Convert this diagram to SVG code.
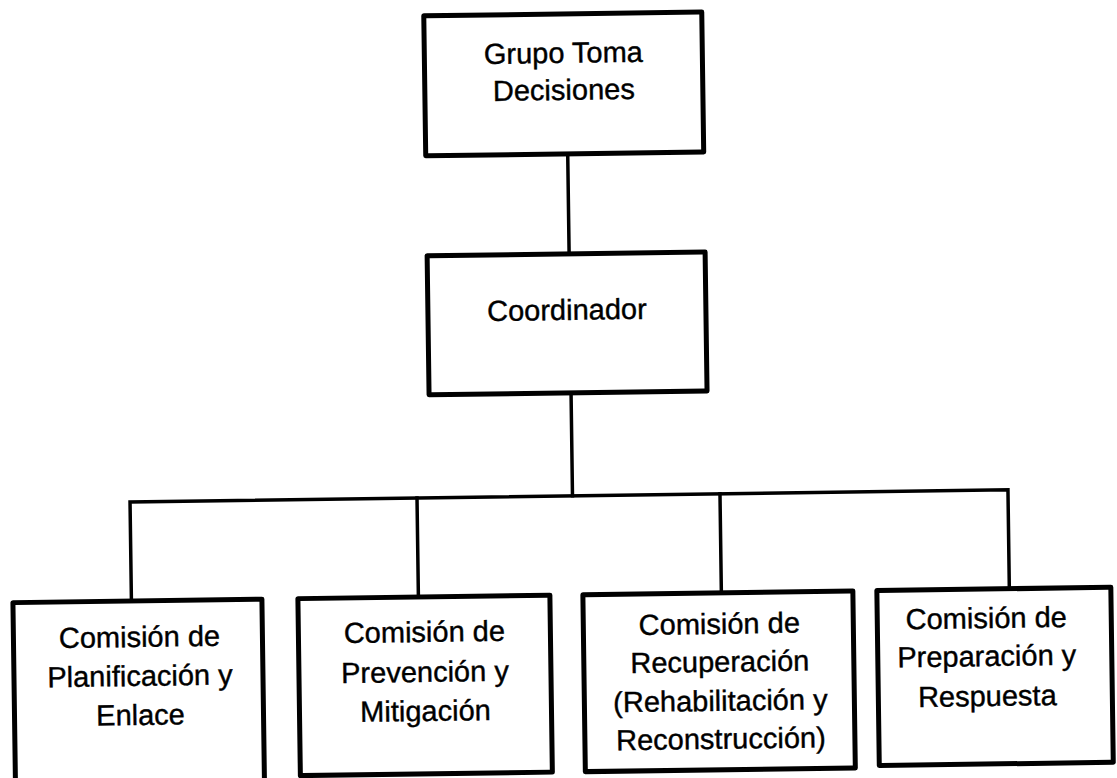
<svg xmlns="http://www.w3.org/2000/svg" width="1117" height="778" viewBox="0 0 1117 778">
<style>
.box{fill:#fff;stroke:#000;stroke-width:5;stroke-linejoin:round}
.ln{fill:none;stroke:#000;stroke-width:3.5;stroke-linecap:square}
text{font-family:"Liberation Sans",Arial,sans-serif;font-size:29px;fill:#000;stroke:#000;stroke-width:0.4;text-anchor:middle}
</style>
<rect width="1117" height="778" fill="#fff"/>
<g transform="rotate(-0.8 558 389)">
<g id="connectors">
<line class="ln" x1="571" y1="154" x2="571" y2="254"/>
<line class="ln" x1="571" y1="393" x2="571" y2="496"/>
<polyline class="ln" points="128.5,595 128.5,496 1006.5,496 1006.5,595"/>
<line class="ln" x1="415.5" y1="496" x2="415.5" y2="595"/>
<line class="ln" x1="718.5" y1="496" x2="718.5" y2="595"/>
</g>
<g id="n-grupo">
<rect class="box" x="429" y="14" width="278" height="140"/>
<text x="568" y="63">Grupo Toma</text>
<text x="568" y="100">Decisiones</text>
</g>
<g id="n-coord">
<rect class="box" x="429" y="254" width="278" height="139"/>
<text x="568" y="320">Coordinador</text>
</g>
<g id="n-planif">
<rect class="box" x="10" y="595" width="249" height="200"/>
<text x="136" y="641">Comisión de</text>
<text x="136" y="680">Planificación y</text>
<text x="136" y="719">Enlace</text>
</g>
<g id="n-prev">
<rect class="box" x="295" y="595" width="252" height="177"/>
<text x="421" y="640">Comisión de</text>
<text x="421" y="680">Prevención y</text>
<text x="421" y="719">Mitigación</text>
</g>
<g id="n-recup">
<rect class="box" x="580" y="595" width="270" height="177"/>
<text x="716" y="636">Comisión de</text>
<text x="716" y="674">Recuperación</text>
<text x="716" y="713">(Rehabilitación y</text>
<text x="716" y="751">Reconstrucción)</text>
</g>
<g id="n-prep">
<rect class="box" x="874" y="595" width="234" height="175"/>
<text x="983" y="634">Comisión de</text>
<text x="983" y="672">Preparación y</text>
<text x="983" y="712">Respuesta</text>
</g>
</g>
</svg>
